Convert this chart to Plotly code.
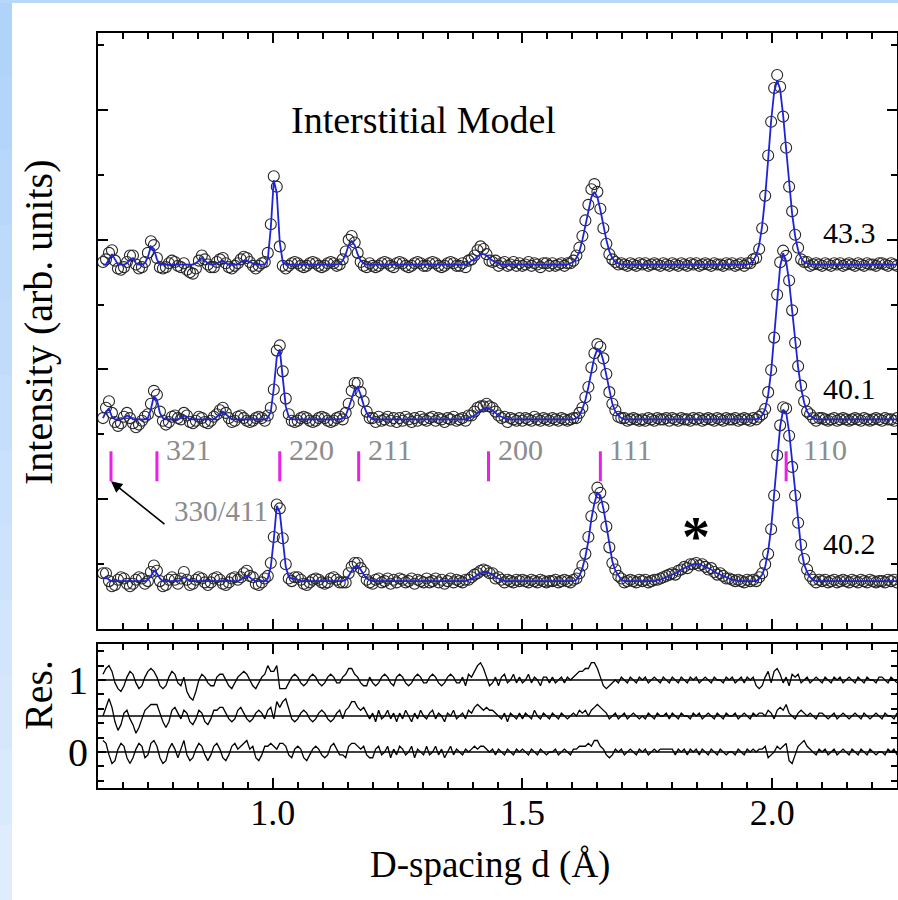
import plotly.graph_objects as go

# ---------------- data (d-spacing grid, counts in arb. units) ----------------
D = [
    0.660, 0.666, 0.672, 0.678, 0.684, 0.690, 0.696, 0.702, 0.708, 0.714,
    0.720, 0.726, 0.732, 0.738, 0.744, 0.750, 0.756, 0.762, 0.768, 0.774,
    0.780, 0.786, 0.792, 0.798, 0.804, 0.810, 0.816, 0.822, 0.828, 0.834,
    0.840, 0.846, 0.852, 0.858, 0.864, 0.870, 0.876, 0.882, 0.888, 0.894,
    0.900, 0.906, 0.912, 0.918, 0.924, 0.930, 0.936, 0.942, 0.948, 0.954,
    0.960, 0.966, 0.972, 0.978, 0.984, 0.990, 0.996, 1.002, 1.008, 1.014,
    1.020, 1.026, 1.032, 1.038, 1.044, 1.050, 1.056, 1.062, 1.068, 1.074,
    1.080, 1.086, 1.092, 1.098, 1.104, 1.110, 1.116, 1.122, 1.128, 1.134,
    1.140, 1.146, 1.152, 1.158, 1.164, 1.170, 1.176, 1.182, 1.188, 1.194,
    1.200, 1.206, 1.212, 1.218, 1.224, 1.230, 1.236, 1.242, 1.248, 1.254,
    1.260, 1.266, 1.272, 1.278, 1.284, 1.290, 1.296, 1.302, 1.308, 1.314,
    1.320, 1.326, 1.332, 1.338, 1.344, 1.350, 1.356, 1.362, 1.368, 1.374,
    1.380, 1.386, 1.392, 1.398, 1.404, 1.410, 1.416, 1.422, 1.428, 1.434,
    1.440, 1.446, 1.452, 1.458, 1.464, 1.470, 1.476, 1.482, 1.488, 1.494,
    1.500, 1.506, 1.512, 1.518, 1.524, 1.530, 1.536, 1.542, 1.548, 1.554,
    1.560, 1.566, 1.572, 1.578, 1.584, 1.590, 1.596, 1.602, 1.608, 1.614,
    1.620, 1.626, 1.632, 1.638, 1.644, 1.650, 1.656, 1.662, 1.668, 1.674,
    1.680, 1.686, 1.692, 1.698, 1.704, 1.710, 1.716, 1.722, 1.728, 1.734,
    1.740, 1.746, 1.752, 1.758, 1.764, 1.770, 1.776, 1.782, 1.788, 1.794,
    1.800, 1.806, 1.812, 1.818, 1.824, 1.830, 1.836, 1.842, 1.848, 1.854,
    1.860, 1.866, 1.872, 1.878, 1.884, 1.890, 1.896, 1.902, 1.908, 1.914,
    1.920, 1.926, 1.932, 1.938, 1.944, 1.950, 1.956, 1.962, 1.968, 1.974,
    1.980, 1.986, 1.992, 1.998, 2.004, 2.010, 2.016, 2.022, 2.028, 2.034,
    2.040, 2.046, 2.052, 2.058, 2.064, 2.070, 2.076, 2.082, 2.088, 2.094,
    2.100, 2.106, 2.112, 2.118, 2.124, 2.130, 2.136, 2.142, 2.148, 2.154,
    2.160, 2.166, 2.172, 2.178, 2.184, 2.190, 2.196, 2.202, 2.208, 2.214,
    2.220, 2.226, 2.232, 2.238, 2.244, 2.250,
]

# pattern "43.3" (top)
T_OBS = [
    2, 4, 9, 11, 3, -3, -4, -2, 2, 7,
    7, 0, -3, -2, 2, 9, 18, 15, 5, -2,
    -3, -2, 1, 3, 2, -1, -2, 1, -4, -6,
    -7, -3, 3, 7, 4, 0, -2, -2, 2, 4,
    5, 1, -2, -3, -1, 1, 4, 6, 5, 2,
    -1, -3, -1, 1, 2, 9, 31, 68, 60, 14,
    -1, -3, -1, 1, 2, 1, -1, -2, -1, 1,
    2, 1, -1, -2, -1, 1, 2, 1, -1, 0,
    4, 10, 19, 22, 17, 9, 2, -1, -2, 1,
    -1, -2, -1, 1, 2, 1, -1, -2, 1, 2,
    1, -1, -2, -1, 1, 2, 1, -1, -1, 1,
    2, 1, -1, -2, -1, 1, 2, 1, -1, -1,
    1, -2, 3, 4, 7, 11, 14, 12, 8, 3,
    2, 3, -1, 1, 2, -1, 0, 2, -1, 1,
    -1, 0, 2, -1, 1, 0, -2, 1, 1, -1,
    1, -1, 0, 1, -1, 1, 1, 3, 7, 13,
    22, 34, 46, 58, 62, 56, 43, 28, 16, 8,
    4, 2, 0, 1, 0, -1, 1, 0, -1, 1,
    0, 1, -1, 0, 1, 0, -1, 1, 0, -1,
    1, 0, -1, 1, 0, -1, 1, 0, 1, -1,
    0, 1, 0, -1, 1, 0, 0, -1, 1, 0,
    1, -1, 0, 1, -1, 1, 1, 4, 5, 12,
    28, 53, 84, 110, 136, 146, 137, 114, 90, 60,
    41, 23, 13, 4, 2, 2, -1, 0, 1, 0,
    -1, 1, 0, -1, 1, 0, 1, -1, 0, 1,
    0, -1, 1, 0, -1, 1, 0, 0, -1, 1,
    1, 0, -1, 1, 0, -1,
]
T_CALC = [
    0, 0, 4, 8, 4, 0, 0, 0, 1, 4,
    5, 1, 0, 0, 1, 6, 14, 12, 4, 0,
    0, 0, 0, 0, 0, 0, 0, 0, 0, 0,
    0, 1, 3, 5, 3, 1, 0, 0, 1, 2,
    3, 1, 0, 0, 0, 0, 2, 3, 3, 2,
    1, 0, 0, 0, 0, 4, 28, 65, 55, 17,
    2, 0, 0, 0, 0, 0, 0, 0, 0, 0,
    0, 0, 0, 0, 0, 0, 0, 0, 0, 1,
    3, 8, 15, 18, 15, 8, 3, 1, 0, 0,
    0, 0, 0, 0, 0, 0, 0, 0, 0, 0,
    0, 0, 0, 0, 0, 0, 0, 0, 0, 0,
    0, 0, 0, 0, 0, 0, 0, 0, 0, 0,
    0, 0, 1, 3, 4, 6, 8, 8, 7, 5,
    3, 2, 1, 0, 0, 0, 0, 0, 0, 0,
    0, 0, 0, 0, 0, 0, 0, 0, 0, 0,
    0, 0, 0, 0, 0, 0, 1, 2, 5, 10,
    19, 30, 42, 52, 56, 52, 42, 30, 19, 10,
    5, 2, 1, 0, 0, 0, 0, 0, 0, 0,
    0, 0, 0, 0, 0, 0, 0, 0, 0, 0,
    0, 0, 0, 0, 0, 0, 0, 0, 0, 0,
    0, 0, 0, 0, 0, 0, 0, 0, 0, 0,
    0, 0, 0, 0, 0, 0, 1, 3, 7, 15,
    30, 52, 81, 111, 133, 142, 135, 115, 89, 62,
    39, 22, 11, 5, 2, 1, 0, 0, 0, 0,
    0, 0, 0, 0, 0, 0, 0, 0, 0, 0,
    0, 0, 0, 0, 0, 0, 0, 0, 0, 0,
    0, 0, 0, 0, 0, 0,
]

# pattern "40.1" (middle)
M_OBS = [
    1, 9, 14, 5, -2, -5, -3, 2, 5, 1,
    -3, -6, -4, -1, 2, 4, 12, 22, 19, 6,
    -1, -4, -2, 2, 3, 1, 0, 5, 3, -2,
    -3, -1, 2, 1, -2, -3, -1, 2, 4, 7,
    9, 5, 1, -2, -1, 2, 3, 1, -1, -2,
    -1, 1, 2, 1, -1, 3, 9, 23, 53, 57,
    37, 16, 4, -1, -2, -1, 1, 2, 1, -1,
    -2, -1, 1, 2, 1, -1, -2, -1, 1, 2,
    0, 5, 12, 22, 28, 28, 21, 14, 6, 1,
    1, -2, 2, -1, 0, 2, -1, 1, -2, 1,
    -1, 2, 0, -2, 1, -1, 2, 0, -1, 1,
    2, -1, 1, 0, -2, 1, 0, 2, -1, 0,
    1, -1, 3, 3, 6, 9, 10, 10, 12, 10,
    9, 6, 3, 1, 2, -2, 1, 0, -1, 1,
    -1, 1, 0, -1, 2, 0, -1, 1, 0, -1,
    1, 0, -1, 1, 0, -1, 0, 1, 1, 5,
    9, 17, 25, 40, 51, 58, 56, 47, 35, 21,
    12, 7, 2, 1, 1, -1, 0, 1, 0, -1,
    0, -1, 1, 0, -1, 1, 0, 0, 1, -1,
    1, 0, -1, 1, 0, 0, -1, 1, 0, 1,
    -1, 0, 1, 0, -1, 1, 0, -1, 1, 0,
    0, 1, -1, 0, 1, 0, -1, 1, 0, 2,
    4, 8, 21, 38, 63, 96, 121, 130, 126, 107,
    84, 59, 41, 26, 14, 6, 4, 1, -1, 1,
    1, 0, -1, 0, 1, -1, 0, 1, 0, -1,
    0, 1, 0, -1, 1, 0, -1, 0, 1, 0,
    -1, 1, 0, 0, -1, 1,
]
M_CALC = [
    1, 6, 8, 2, 0, 0, 0, 1, 3, 2,
    0, 0, 0, 0, 0, 1, 8, 18, 15, 5,
    1, 0, 0, 0, 0, 0, 1, 3, 2, 0,
    0, 0, 0, 0, 0, 0, 0, 0, 2, 4,
    6, 4, 2, 0, 0, 0, 0, 0, 0, 0,
    0, 0, 0, 0, 0, 1, 6, 24, 48, 54,
    32, 10, 2, 0, 0, 0, 0, 0, 0, 0,
    0, 0, 0, 0, 0, 0, 0, 0, 0, 0,
    1, 3, 9, 17, 23, 25, 19, 11, 5, 2,
    0, 0, 0, 0, 0, 0, 0, 0, 0, 0,
    0, 0, 0, 0, 0, 0, 0, 0, 0, 0,
    0, 0, 0, 0, 0, 0, 0, 0, 0, 0,
    0, 0, 1, 2, 3, 5, 7, 8, 9, 8,
    7, 5, 3, 2, 1, 0, 0, 0, 0, 0,
    0, 0, 0, 0, 0, 0, 0, 0, 0, 0,
    0, 0, 0, 0, 0, 0, 0, 0, 1, 3,
    8, 15, 25, 38, 48, 54, 53, 45, 34, 22,
    12, 6, 3, 1, 0, 0, 0, 0, 0, 0,
    0, 0, 0, 0, 0, 0, 0, 0, 0, 0,
    0, 0, 0, 0, 0, 0, 0, 0, 0, 0,
    0, 0, 0, 0, 0, 0, 0, 0, 0, 0,
    0, 0, 0, 0, 0, 0, 0, 0, 0, 1,
    3, 8, 19, 37, 64, 94, 118, 128, 122, 106,
    84, 60, 40, 24, 13, 6, 3, 1, 0, 0,
    0, 0, 0, 0, 0, 0, 0, 0, 0, 0,
    0, 0, 0, 0, 0, 0, 0, 0, 0, 0,
    0, 0, 0, 0, 0, 0,
]

# pattern "40.2" (bottom)
B_OBS = [
    6, 6, 0, -4, -3, 1, 3, 2, -2, -4,
    -2, 1, 3, 2, -2, 0, 7, 12, 8, 0,
    -4, -3, 1, 3, 1, -2, 2, 7, 1, -3,
    -2, 1, 3, 2, -1, -3, -1, 2, 3, 1,
    -2, -3, -1, 2, 3, 1, 3, 6, 8, 4,
    3, -2, -3, -1, 2, 4, 14, 34, 59, 56,
    33, 13, 2, 0, 3, 3, 1, -2, -3, -1,
    1, 2, 1, -1, -2, -1, 2, 3, 1, -1,
    -1, -1, 6, 11, 14, 14, 10, 7, 1, -1,
    -2, 1, 2, -1, 0, 2, -2, 1, -1, 2,
    1, -1, 0, 2, -2, 1, 0, -1, 2, -1,
    0, 2, -1, 1, -2, 0, 2, -1, 1, 0,
    -1, 1, 1, 3, 5, 6, 8, 9, 8, 6,
    6, 2, 3, 1, -1, 1, 0, -1, 1, 0,
    1, 0, -1, 1, 0, -1, 1, 0, -1, 0,
    0, 1, -1, 0, 1, 0, -1, 1, 2, 6,
    12, 21, 34, 50, 64, 72, 68, 57, 42, 26,
    14, 9, 4, 2, -1, 0, 1, 0, -1, 1,
    0, 1, -1, 0, 1, 1, 2, 3, 4, 5,
    6, 5, 8, 9, 11, 10, 13, 13, 14, 12,
    13, 11, 9, 10, 7, 5, 6, 4, 2, 2,
    1, 0, 1, 0, -1, 1, 0, 1, 0, 3,
    6, 13, 21, 40, 66, 97, 120, 134, 133, 112,
    88, 66, 45, 28, 17, 9, 4, 1, -1, 1,
    0, 1, -1, 0, 1, -1, 0, 1, 0, -1,
    1, 0, -1, 1, 0, -1, 1, 0, -1, 0,
    0, -1, 1, 0, 1, -1,
]
B_CALC = [
    2, 3, 1, 0, 0, 0, 0, 0, 0, 0,
    0, 0, 0, 0, 0, 1, 4, 8, 6, 2,
    0, 0, 0, 0, 0, 0, 1, 3, 2, 0,
    0, 0, 0, 0, 0, 0, 0, 0, 0, 0,
    0, 0, 0, 0, 0, 0, 1, 3, 4, 3,
    1, 0, 0, 0, 0, 2, 11, 32, 58, 53,
    30, 11, 3, 2, 2, 1, 0, 0, 0, 0,
    0, 0, 0, 0, 0, 0, 0, 0, 0, 0,
    0, 1, 4, 8, 11, 12, 9, 5, 2, 1,
    0, 0, 0, 0, 0, 0, 0, 0, 0, 0,
    0, 0, 0, 0, 0, 0, 0, 0, 0, 0,
    0, 0, 0, 0, 0, 0, 0, 0, 0, 0,
    0, 0, 1, 2, 3, 5, 6, 7, 7, 6,
    5, 3, 2, 1, 0, 0, 0, 0, 0, 0,
    0, 0, 0, 0, 0, 0, 0, 0, 0, 0,
    0, 0, 0, 0, 0, 0, 0, 0, 1, 4,
    10, 19, 31, 48, 60, 68, 66, 56, 43, 28,
    15, 8, 4, 1, 0, 0, 0, 0, 0, 0,
    0, 0, 0, 0, 0, 1, 1, 2, 3, 4,
    5, 6, 7, 9, 10, 11, 12, 13, 13, 13,
    12, 11, 10, 9, 7, 6, 5, 4, 3, 2,
    1, 1, 0, 0, 0, 0, 0, 0, 0, 2,
    5, 11, 23, 41, 66, 95, 119, 132, 130, 115,
    92, 67, 43, 25, 13, 7, 3, 1, 0, 0,
    0, 0, 0, 0, 0, 0, 0, 0, 0, 0,
    0, 0, 0, 0, 0, 0, 0, 0, 0, 0,
    0, 0, 0, 0, 0, 0,
]

PATTERN_LABELS = ["43.3", "40.1", "40.2"]
PATTERN_OFFSETS = [2.808, 1.615, 0.369]      # vertical stacking offsets
LABEL_Y = [3.054, 1.854, 0.662]
RES_OFFSETS = [1.0, 0.5, 0.0]
COUNT_SCALE = 0.01                            # counts -> axis units
RES_SCALE = 0.04                              # residual counts -> Res. units

# reflection markers
TICK_D = [0.676, 0.768, 1.014, 1.172, 1.432, 1.656, 2.028]
TICK_HKL = ["330/411", "321", "220", "211", "200", "111", "110"]
TICK_Y = [1.138, 1.369]

X_TICKS = [1.0, 1.5, 2.0]
X_TICKTEXT = ["1.0", "1.5", "2.0"]

FONT = "Liberation Serif"
OBS_COLOR = "#262626"
CALC_COLOR = "#1f23d6"
TICK_COLOR = "#ea20e6"
HKL_COLOR = "#8c8c8c"

patterns = [(T_OBS, T_CALC), (M_OBS, M_CALC), (B_OBS, B_CALC)]

fig = go.Figure()

# observed points
for (obs, calc), off in zip(patterns, PATTERN_OFFSETS):
    fig.add_trace(go.Scatter(
        x=D, y=[off + v * COUNT_SCALE for v in obs], mode="markers",
        marker=dict(symbol="circle-open", size=11, color=OBS_COLOR,
                    line=dict(width=1.1, color=OBS_COLOR)),
        xaxis="x", yaxis="y", showlegend=False, hoverinfo="skip"))
# calculated curves
for (obs, calc), off in zip(patterns, PATTERN_OFFSETS):
    fig.add_trace(go.Scatter(
        x=D, y=[off + v * COUNT_SCALE for v in calc], mode="lines",
        line=dict(color=CALC_COLOR, width=1.8),
        xaxis="x", yaxis="y", showlegend=False, hoverinfo="skip"))

# reflection tick marks
tx, ty = [], []
for d in TICK_D:
    tx += [d, d, None]
    ty += [TICK_Y[0], TICK_Y[1], None]
fig.add_trace(go.Scatter(x=tx, y=ty, mode="lines",
                         line=dict(color=TICK_COLOR, width=3),
                         xaxis="x", yaxis="y", showlegend=False, hoverinfo="skip"))

# residuals
for (obs, calc), roff in zip(patterns, RES_OFFSETS):
    fig.add_trace(go.Scatter(
        x=D, y=[roff + (o - c) * RES_SCALE for o, c in zip(obs, calc)],
        mode="lines", line=dict(color="black", width=1.3),
        xaxis="x2", yaxis="y2", showlegend=False, hoverinfo="skip"))

shapes = []
for roff in RES_OFFSETS:
    shapes.append(dict(type="line", xref="x2 domain", yref="y2", x0=0, x1=1,
                       y0=roff, y1=roff, line=dict(color="black", width=1.6)))

# light-blue slide frame (left + top strips, vertical gradient)
W_PLOT, H_PLOT, L, T, B = 799, 755, 98, 33, 112
def px_x(p):
    return (p - L) / W_PLOT
def px_y(p):
    return (900 - B - p) / H_PLOT
n_seg = 12
c0, c1 = (176, 211, 250), (222, 236, 253)
for i in range(n_seg):
    f = i / (n_seg - 1)
    col = "rgb(%d,%d,%d)" % tuple(round(a + (b - a) * f) for a, b in zip(c0, c1))
    shapes.append(dict(type="rect", xref="paper", yref="paper",
                       x0=px_x(0), x1=px_x(12),
                       y0=px_y(900 * (i + 1) / n_seg), y1=px_y(900 * i / n_seg),
                       line=dict(width=0), fillcolor=col, layer="below"))
shapes.append(dict(type="rect", xref="paper", yref="paper",
                   x0=px_x(0), x1=px_x(898), y0=px_y(3), y1=px_y(0),
                   line=dict(width=0), fillcolor="rgb(184,216,251)", layer="below"))

annotations = []
# hkl labels
for d, lab in zip(TICK_D[1:], TICK_HKL[1:]):
    annotations.append(dict(x=d, y=TICK_Y[1], xref="x", yref="y", text=lab,
                            showarrow=False, xanchor="left", yanchor="middle",
                            xshift=15 if lab == "110" else 7, yshift=2,
                            font=dict(family=FONT, size=30, color=HKL_COLOR)))
# 330/411 arrow + label
annotations.append(dict(x=TICK_D[0], y=TICK_Y[0], xref="x", yref="y", text="",
                        showarrow=True, arrowhead=2, arrowsize=1.4, arrowwidth=1.6,
                        arrowcolor="black", ax=55, ay=44))
annotations.append(dict(x=TICK_D[0], y=TICK_Y[0], xref="x", yref="y", text=TICK_HKL[0],
                        showarrow=False, xanchor="left", yanchor="middle",
                        xshift=61, yshift=-30,
                        font=dict(family=FONT, size=29, color=HKL_COLOR)))
# pattern labels
for lab, ly in zip(PATTERN_LABELS, LABEL_Y):
    annotations.append(dict(x=2.154, y=ly, xref="x", yref="y", text=lab,
                            showarrow=False, xanchor="center", yanchor="middle",
                            font=dict(family=FONT, size=30, color="black")))
annotations.append(dict(x=1.301, y=3.92, xref="x", yref="y", text="Interstitial Model",
                        showarrow=False, xanchor="center", yanchor="middle",
                        font=dict(family=FONT, size=38, color="black")))
annotations.append(dict(x=1.848, y=0.369, xref="x", yref="y", text="<b>*</b>",
                        showarrow=False, xanchor="center", yanchor="middle", yshift=44,
                        font=dict(family=FONT, size=56, color="black")))
# axis titles
annotations.append(dict(x=px_x(38), y=px_y(322), xref="paper", yref="paper",
                        text="Intensity (arb. units)", textangle=-90, showarrow=False,
                        xanchor="center", yanchor="middle",
                        font=dict(family=FONT, size=40, color="black")))
annotations.append(dict(x=px_x(38), y=px_y(695), xref="paper", yref="paper",
                        text="Res.", textangle=-90, showarrow=False,
                        xanchor="center", yanchor="middle",
                        font=dict(family=FONT, size=40, color="black")))
annotations.append(dict(x=px_x(490), y=px_y(865), xref="paper", yref="paper",
                        text="D-spacing d (Å)", showarrow=False,
                        xanchor="center", yanchor="middle",
                        font=dict(family=FONT, size=37, color="black")))

axis_common = dict(showgrid=False, zeroline=False, showline=True, linecolor="black",
                   linewidth=2, mirror="ticks", ticks="inside", tickcolor="black",
                   tickwidth=1.5)

main_bottom = (900 - B - 629) / H_PLOT
res_top = (900 - B - 644) / H_PLOT

fig.update_layout(
    width=898, height=900,
    margin=dict(l=L, r=1, t=T, b=B),
    paper_bgcolor="white", plot_bgcolor="white",
    template="none",
    font=dict(family=FONT, color="black"),
    xaxis=dict(domain=[0, 1], anchor="y", range=[0.65, 2.25], tickvals=X_TICKS,
               showticklabels=False, ticklen=10,
               minor=dict(dtick=0.05, tick0=0, ticklen=6, ticks="inside",
                          tickcolor="black", tickwidth=1.5),
               **axis_common),
    yaxis=dict(domain=[main_bottom, 1], anchor="x", range=[0, 4.592], dtick=1, tick0=0,
               showticklabels=False, ticklen=10,
               minor=dict(dtick=0.5, tick0=0, ticklen=6, ticks="inside",
                          tickcolor="black", tickwidth=1.5),
               **axis_common),
    xaxis2=dict(domain=[0, 1], anchor="y2", range=[0.65, 2.25], tickvals=X_TICKS,
                ticktext=X_TICKTEXT, ticklen=10, ticklabelstandoff=-8,
                tickfont=dict(family=FONT, size=36, color="black"),
                minor=dict(dtick=0.05, tick0=0, ticklen=6, ticks="inside",
                           tickcolor="black", tickwidth=1.5),
                **axis_common),
    yaxis2=dict(domain=[0, res_top], anchor="x2", range=[-0.5, 1.5], tickvals=[0, 1],
                ticktext=["0", "1"], ticklen=8, ticklabelstandoff=0,
                tickfont=dict(family=FONT, size=40, color="black"),
                minor=dict(dtick=0.2, tick0=0, ticklen=6, ticks="inside",
                           tickcolor="black", tickwidth=1.5),
                **axis_common),
    shapes=shapes,
    annotations=annotations,
)

fig.write_html("out.html", post_script="document.body.style.margin='0px';",
               config={"displayModeBar": False})
